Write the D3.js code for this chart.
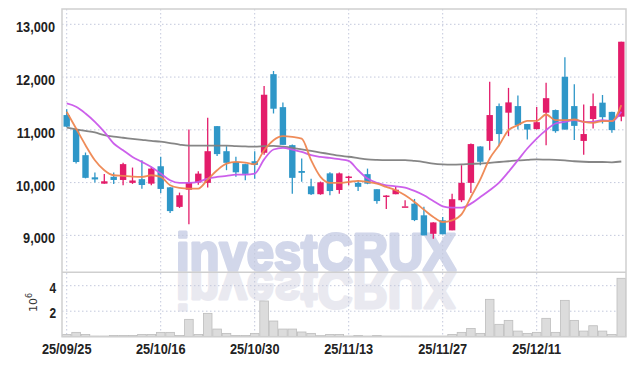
<!DOCTYPE html>
<html lang="en">
<head>
<meta charset="UTF-8" />
<title>investCRUX daily candles</title>
<style>
  body { margin: 0; background: #fff; }
  svg { display: block; }
  .tick text {
    font-family: 'Liberation Sans Narrow', 'Liberation Sans', sans-serif;
    font-weight: bold;
    fill: #222;
  }
</style>
</head>
<body>
<svg id="chart" width="635" height="366"></svg>

<script src="https://d3js.org/d3.v7.min.js"></script>
<script>
// trading days, YY/MM/DD
const dates = [
  '25/09/25','25/09/26','25/09/29','25/09/30','25/10/01','25/10/02','25/10/10','25/10/13','25/10/14','25/10/15',
  '25/10/16','25/10/17','25/10/20','25/10/21','25/10/22','25/10/23','25/10/24','25/10/27','25/10/28','25/10/29',
  '25/10/30','25/10/31','25/11/03','25/11/04','25/11/05','25/11/06','25/11/07','25/11/10','25/11/11','25/11/12',
  '25/11/13','25/11/14','25/11/17','25/11/18','25/11/19','25/11/20','25/11/21','25/11/24','25/11/25','25/11/26',
  '25/11/27','25/11/28','25/12/01','25/12/02','25/12/03','25/12/04','25/12/05','25/12/08','25/12/09','25/12/10',
  '25/12/11','25/12/12','25/12/15','25/12/16','25/12/17','25/12/18','25/12/19','25/12/22','25/12/23','25/12/24'
];
const open = [
  11280,11010,10520,10100,9980,10110,10050,9995,10065,9980,
  10310,9910,9540,9865,10000,9995,11070,10595,10390,10350,
  10405,10565,12055,11430,10710,10220,9930,9780,10175,9860,
  10100,9995,10160,9875,9745,9780,9545,9600,9380,9030,
  9285,9095,9665,9995,10685,10790,11450,11325,11450,11110,
  11015,11325,11375,12005,11450,10790,11205,11515,11340,11250
];
const high = [
  11390,11020,10570,10190,10165,10190,10375,10285,10425,10300,
  10490,9915,9810,11005,10215,11230,11075,10690,10490,10355,
  10595,11830,12115,11520,10720,10455,10075,10020,10195,10190,
  10130,10045,10265,9875,9760,9920,9665,9690,9540,9250,
  9350,9790,10330,10740,10690,11910,11500,11795,11650,11110,
  11435,11890,11385,12375,11865,11480,11690,11660,11345,12670
];
const low = [
  11050,10360,10080,10000,9980,9975,9950,9975,9885,9950,
  9805,9425,9520,9210,9960,9905,10505,10235,10110,10045,
  10075,10530,11310,10715,9790,10015,9765,9770,9760,9790,
  9950,9840,9970,9600,9500,9778,9545,9270,9000,8935,
  9020,9095,9630,9805,10330,10615,10690,10880,11005,10815,
  11005,10710,10945,11005,10805,10530,11025,11120,10945,11165
];
const close = [
  11060,10390,10090,10060,10025,10050,10350,10040,9955,10265,
  9880,9460,9760,10000,10170,10595,10540,10375,10195,10165,
  10335,11665,11400,10715,10090,10185,9780,10005,9840,10175,
  10115,9920,9980,9650,9755,9865,9550,9290,9000,9245,
  9020,9685,9995,10730,10395,11280,10920,11520,11090,11005,
  11145,11600,10975,11005,11075,10920,11450,11240,10995,12670
];
// volume, millions of shares
const volume = [
  0.18,0.34,0.18,0.05,0.05,0.1,0.1,0.1,0.18,0.18,
  0.34,0.34,0.1,1.36,0.18,1.83,0.6,0.26,0.1,0.1,
  0.26,2.8,1.23,0.6,0.6,0.37,0.26,0.08,0.18,0.18,
  0.05,0.1,0.05,0.1,0.05,0.05,0.05,0.05,0.05,0.05,
  0.05,0.18,0.34,0.65,0.26,2.93,0.97,1.28,0.44,0.26,
  0.34,1.44,0.34,2.85,1.28,0.44,0.86,0.44,0.18,4.58
];
// moving averages as drawn
const maShort = [
  11342,11025,10709,10424,10234,10139,10127,10114,10108,10139,
  10108,9949,9899,9886,9886,10060,10234,10361,10392,10380,
  10348,10614,10804,10880,10867,10835,10424,10108,9994,9994,
  10013,10032,10013,9981,9918,9854,9759,9633,9487,9348,
  9253,9285,9399,9728,10060,10456,10709,10994,11089,11171,
  11171,11291,11184,11184,11196,11152,11133,11165,11165,11468
];
const maMid = [
  11500,11437,11310,11152,10962,10741,10614,10487,10392,10297,
  10171,10044,9994,9994,10013,10076,10108,10127,10152,10152,
  10171,10440,10627,10658,10627,10582,10519,10487,10468,10443,
  10411,10234,10076,9994,9949,9930,9905,9842,9759,9652,
  9551,9525,9525,9601,9726,9854,10000,10203,10424,10646,
  10835,10994,11120,11152,11184,11152,11152,11184,11165,11342
];
const maLong = [
  11040,11010,10980,10950,10900,10870,10850,10830,10810,10790,
  10775,10750,10720,10700,10700,10700,10700,10700,10690,10685,
  10680,10690,10695,10680,10660,10630,10600,10570,10540,10510,
  10490,10465,10440,10430,10425,10425,10425,10410,10390,10360,
  10345,10340,10345,10355,10360,10375,10390,10405,10420,10430,
  10440,10435,10430,10420,10405,10395,10390,10390,10385,10400
];
const priceTicks = [9000, 10000, 11000, 12000, 13000];
const volumeTicks = [2, 4];
const dateTicks = ['25/09/25', '25/10/16', '25/10/30', '25/11/13', '25/11/27', '25/12/11'];

const svg = d3.select('#chart');
const padL = 62, padR = 626, padT = 9, split = 272.3, padB = 336.7;

const x = d3.scaleBand().domain(dates).range([padL, padR]);
const bw = x.bandwidth();
const cx = (d) => x(d) + bw / 2;
const y = d3.scaleLinear().domain([8300, 13290]).range([split, padT]);
const yv = d3.scaleLinear().domain([0, 5.05]).range([padB, split]);

// watermark + reflection (one text element each, the reflection is flipped)
const mark = svg.append('g')
  .style('font-family', "'Liberation Sans', Arial, sans-serif")
  .style('font-weight', 'bold')
  .style('font-size', '52px')
  .attr('stroke-linejoin', 'round');
mark.append('text')
  .attr('x', 316).attr('y', split)
  .attr('transform', `translate(0, ${2 * split}) scale(1,-1)`)
  .attr('text-anchor', 'middle')
  .attr('textLength', 280).attr('lengthAdjust', 'spacingAndGlyphs')
  .attr('fill', '#e9e9f0').attr('stroke', '#e9e9f0').attr('stroke-width', 3)
  .text('investCRUX');
mark.append('text')
  .attr('x', 316).attr('y', split - 2)
  .attr('text-anchor', 'middle')
  .attr('textLength', 280).attr('lengthAdjust', 'spacingAndGlyphs')
  .attr('fill', '#d2d7ea').attr('stroke', '#d2d7ea').attr('stroke-width', 3)
  .text('investCRUX');

// grids
const gridColor = '#c3c8dc';
const grid = svg.append('g')
  .attr('stroke', gridColor).attr('stroke-dasharray', '1.5,2.5').attr('stroke-width', 1);
grid.selectAll('.hp').data(priceTicks).enter().append('line')
  .attr('x1', padL).attr('x2', padR).attr('y1', (d) => y(d)).attr('y2', (d) => y(d));
grid.selectAll('.hv').data(volumeTicks).enter().append('line')
  .attr('x1', padL).attr('x2', padR).attr('y1', (d) => yv(d)).attr('y2', (d) => yv(d));
grid.selectAll('.vx').data(dateTicks).enter().append('line')
  .attr('x1', (d) => cx(d)).attr('x2', (d) => cx(d)).attr('y1', padT).attr('y2', padB);

// volume bars
svg.append('g').selectAll('rect').data(volume).enter().append('rect')
  .attr('x', (d, i) => x(dates[i]) + 0.4)
  .attr('width', bw - 0.8)
  .attr('y', (d) => yv(d))
  .attr('height', (d) => padB - yv(d))
  .attr('fill', '#dcdcdc')
  .attr('stroke', '#bdbdbd')
  .attr('stroke-width', 0.8);

// panel frame
const frame = svg.append('g').attr('stroke', '#cfcfcf').attr('stroke-width', 1.5).attr('fill', 'none');
frame.append('rect').attr('x', padL).attr('y', padT).attr('width', padR - padL).attr('height', padB - padT);
frame.append('line').attr('x1', padL).attr('x2', padR).attr('y1', split).attr('y2', split);

// candles
const up = '#e31c6a', down = '#2f97c8';
const candles = svg.append('g').selectAll('g').data(dates).enter().append('g')
  .attr('fill', (d, i) => (close[i] >= open[i] ? up : down))
  .attr('stroke', (d, i) => (close[i] >= open[i] ? up : down));
candles.append('line')
  .attr('x1', (d) => cx(d)).attr('x2', (d) => cx(d))
  .attr('y1', (d, i) => y(high[i])).attr('y2', (d, i) => y(low[i]))
  .attr('stroke-width', 1.3);
candles.append('rect')
  .attr('x', (d) => cx(d) - 3.2)
  .attr('width', 6.4)
  .attr('y', (d, i) => y(Math.max(open[i], close[i])))
  .attr('height', (d, i) => Math.max(1.5, Math.abs(y(open[i]) - y(close[i]))))
  .attr('stroke', 'none');

// moving averages
const line = d3.line().x((d, i) => cx(dates[i])).y((d) => y(d)).curve(d3.curveMonotoneX);
[[maLong, '#7f7f7f'], [maMid, '#c957ea'], [maShort, '#ee8650']].forEach(([s, c]) => {
  svg.append('path').datum(s).attr('d', line)
    .attr('fill', 'none').attr('stroke', c).attr('stroke-width', 1.8).attr('opacity', 0.95);
});

// axes (labels squeezed horizontally to match the narrow face)
const squeeze = 0.85;
const yAxis = svg.append('g').attr('transform', `translate(${padL},0)`)
  .call(d3.axisLeft(y).tickValues(priceTicks).tickFormat(d3.format(',')).tickSize(0).tickPadding(7));
yAxis.selectAll('text').style('font-size', '15px').attr('dy', '0.5em')
  .attr('x', -7 / squeeze).attr('transform', `scale(${squeeze},1)`);

const vAxis = svg.append('g').attr('transform', `translate(${padL},0)`)
  .call(d3.axisLeft(yv).tickValues(volumeTicks).tickFormat((d) => d).tickSize(0).tickPadding(7));
vAxis.selectAll('text').style('font-size', '14px').attr('dy', '0.45em')
  .attr('x', -6 / squeeze).attr('transform', `scale(${squeeze},1)`);

const xAxis = svg.append('g').attr('transform', `translate(0,${padB})`)
  .call(d3.axisBottom(x).tickValues(dateTicks).tickSize(0).tickPadding(7));
xAxis.selectAll('text').style('font-size', '15px').attr('transform', `scale(${squeeze},1)`);

svg.selectAll('.domain').remove();

// unit label 10^6
const unit = svg.append('text')
  .attr('transform', 'translate(37,312) rotate(-90)')
  .style('font-family', "'DejaVu Sans', sans-serif")
  .style('font-size', '11px')
  .attr('fill', '#333');
unit.append('tspan').text('10');
unit.append('tspan').attr('dy', -5).style('font-size', '8px').text('6');
</script>
</body>
</html>
